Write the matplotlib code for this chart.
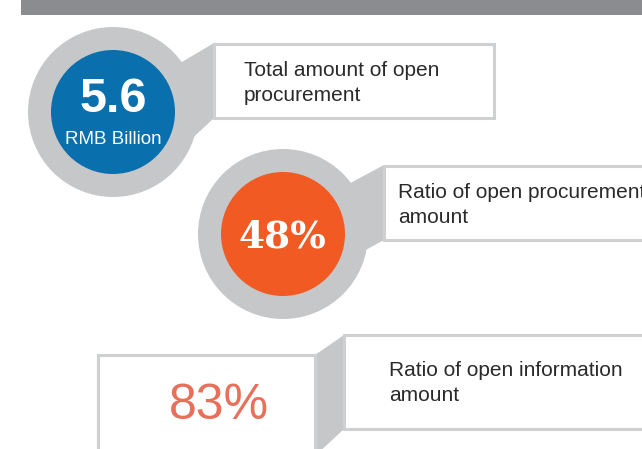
import matplotlib
matplotlib.use("Agg")
import matplotlib.pyplot as plt
from matplotlib.patches import Circle, Rectangle, Polygon

# ---- content ----
values = ["5.6", "48%", "83%"]
value_units = ["RMB Billion", "", ""]
labels = ["Total amount of open\nprocurement",
          "Ratio of open procurement\namount",
          "Ratio of open information\namount"]

# ---- colours ----
c_bar = "#8b8c8f"
c_ring = "#c6c7c9"
c_blue = "#0a6fad"
c_orange = "#f15a22"
c_coral = "#e8705a"
c_border = "#cfd0d1"
c_text = "#2a2a2a"

W, H = 642, 449
fig = plt.figure(figsize=(W / 100, H / 100), dpi=100)
ax = fig.add_axes([0, 0, 1, 1])
ax.set_xlim(0, W)
ax.set_ylim(H, 0)
ax.set_aspect("equal")
ax.axis("off")

# top bar
ax.add_patch(Rectangle((21, 0), W, 15, facecolor=c_bar, edgecolor="none"))

# ---- item 1: blue circle ----
cx1, cy1 = 113, 112
ax.add_patch(Polygon([(160, 75), (214, 43), (214, 118), (170, 159)],
                     closed=True, facecolor=c_ring, edgecolor="none", zorder=1))
ax.add_patch(Circle((cx1, cy1), 85, facecolor=c_ring, edgecolor="none", zorder=2))
ax.add_patch(Circle((cx1, cy1), 62, facecolor=c_blue, edgecolor="none", zorder=3))
ax.text(cx1, 100, values[0], color="white", fontsize=35, fontweight="bold",
        family="Liberation Sans", ha="center", va="center", zorder=4)
ax.text(cx1, 140, value_units[0], color="white", fontsize=13.5,
        family="Liberation Sans", ha="center", va="center", zorder=4)
ax.add_patch(Rectangle((214, 44), 280, 74, facecolor="white",
                       edgecolor=c_border, linewidth=2.2, zorder=3))
ax.text(244, 83, labels[0], color=c_text, fontsize=15, family="Liberation Sans",
        ha="left", va="center", linespacing=1.35, zorder=4)

# ---- item 2: orange circle ----
cx2, cy2 = 283, 234
ax.add_patch(Polygon([(330, 194), (384, 165), (384, 240), (340, 264)],
                     closed=True, facecolor=c_ring, edgecolor="none", zorder=1))
ax.add_patch(Circle((cx2, cy2), 85, facecolor=c_ring, edgecolor="none", zorder=2))
ax.add_patch(Circle((cx2, cy2), 62, facecolor=c_orange, edgecolor="none", zorder=3))
ax.text(cx2 - 1, 237, values[1], color="white", fontsize=27, fontweight="bold",
        family="DejaVu Serif", ha="center", va="center", zorder=4)
ax.add_patch(Rectangle((384, 166), 300, 74, facecolor="white",
                       edgecolor=c_border, linewidth=2.2, zorder=3))
ax.text(398, 205, labels[1], color=c_text, fontsize=15, family="Liberation Sans",
        ha="left", va="center", linespacing=1.35, zorder=4, clip_on=True)

# ---- item 3: boxed value ----
ax.add_patch(Rectangle((98, 355), 217, 120, facecolor="white",
                       edgecolor=c_border, linewidth=2.2, zorder=3))
ax.add_patch(Polygon([(315, 355), (344, 335), (344, 429), (315, 456)],
                     closed=True, facecolor=c_ring, edgecolor="none", zorder=2))
ax.text(219, 406, values[2], color=c_coral, fontsize=36,
        family="Liberation Sans", ha="center", va="center", zorder=4)
ax.add_patch(Rectangle((344, 335), 320, 94, facecolor="white",
                       edgecolor=c_border, linewidth=2.2, zorder=3))
ax.text(389, 383, labels[2], color=c_text, fontsize=15, family="Liberation Sans",
        ha="left", va="center", linespacing=1.35, zorder=4)

fig.savefig("out.png", dpi=100)
